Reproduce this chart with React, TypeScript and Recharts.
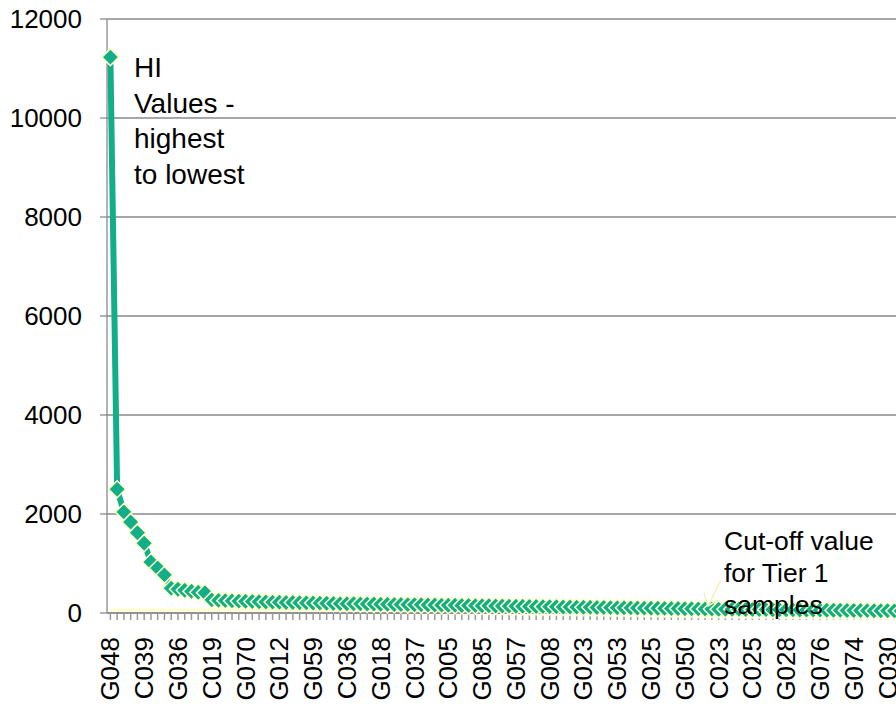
import React from "react";
import { LineChart, Line, XAxis, YAxis, CartesianGrid } from "recharts";

// HI values, sorted highest to lowest
const hiValues = [
  11230, 2500, 2040, 1840, 1620, 1410, 1030, 910, 770, 500,
  480, 460, 440, 420, 410, 265, 255, 250, 245, 240,
  236, 232, 228, 224, 220, 217, 214, 211, 208, 205,
  202, 199, 196, 193, 190, 188, 186, 184, 182, 180,
  177, 175, 173, 171, 169, 167, 165, 163, 161, 159,
  157, 155, 153, 151, 149, 147, 145, 143, 141, 139,
  137, 135, 133, 131, 129, 127, 125, 123, 121, 119,
  117, 115, 113, 111, 109, 107, 105, 103, 101, 99,
  97, 95, 93, 91, 89, 87, 85, 83, 81, 79,
  77, 76, 75, 74, 72, 71, 70, 68, 67, 66,
  64, 63, 62, 60, 59, 58, 56, 55, 54, 52,
  51, 50, 48, 47, 46, 44, 43, 42, 40, 39,
];

// every 5th sample gets a label on the axis
const tickLabels = [
  "G048", "C039", "G036", "C019", "G070", "G012", "G059", "C036",
  "G018", "C037", "C005", "G085", "G057", "G008", "G023", "G053",
  "G025", "G050", "C023", "C025", "G028", "G076", "G074", "C030",
];

const yTicks = [0, 2000, 4000, 6000, 8000, 10000, 12000];

const CUTOFF = 60;

const GREEN = "#12AE89";
const PALE = "#FFFFC8";
const FONT = "'Liberation Sans', Arial, sans-serif";

const data = hiValues.map((v, i) => ({ idx: i, hi: v, cutoff: CUTOFF }));

function SampleTick(props: any) {
  const { x, payload } = props;
  const i = payload.value as number;
  const label = i % 5 === 0 ? tickLabels[i / 5] : "";
  if (!label) return null;
  return (
    <g transform={`translate(${x + 9}, 637) rotate(-90)`}>
      <text x={0} y={0} textAnchor="end" fontSize={26} fontFamily={FONT} fill="#000">
        {label}
      </text>
    </g>
  );
}

function Diamond(props: any) {
  const { cx, cy } = props;
  if (cx == null || cy == null) return null;
  const r = 8.5;
  return (
    <polygon
      points={`${cx},${cy - r} ${cx + r},${cy} ${cx},${cy + r} ${cx - r},${cy}`}
      fill={GREEN}
      stroke={PALE}
      strokeWidth={1.5}
    />
  );
}

export default function App() {
  return (
    <div
      style={{
        position: "absolute",
        left: 0,
        top: 0,
        width: 896,
        height: 704,
        overflow: "hidden",
        background: "#fff",
        fontFamily: FONT,
      }}
    >
      <LineChart
        width={940}
        height={704}
        data={data}
        margin={{ top: 19, right: 22, bottom: 0, left: 0 }}
      >
        <CartesianGrid vertical={false} stroke="#8a8a8a" strokeWidth={1.3} />
        <XAxis
          dataKey="idx"
          type="category"
          scale="band"
          interval={0}
          height={91}
          tick={<SampleTick />}
          tickSize={7}
          tickLine={{ stroke: "#999", strokeWidth: 1.5 }}
          axisLine={{ stroke: "#8a8a8a", strokeWidth: 1.3 }}
        />
        <YAxis
          width={107}
          domain={[0, 12000]}
          ticks={yTicks}
          interval={0}
          tickSize={7}
          tickMargin={18}
          tickLine={{ stroke: "#8a8a8a", strokeWidth: 1.3 }}
          axisLine={{ stroke: "#8a8a8a", strokeWidth: 1.3 }}
          tick={{ fontSize: 26, fontFamily: FONT, fill: "#000" }}
        />
        <Line
          dataKey="hi"
          stroke={GREEN}
          strokeWidth={6}
          dot={<Diamond />}
          activeDot={false}
          isAnimationActive={false}
        />
        <Line
          dataKey="cutoff"
          stroke={PALE}
          strokeWidth={2.5}
          dot={false}
          activeDot={false}
          isAnimationActive={false}
        />
      </LineChart>

      <div
        style={{
          position: "absolute",
          left: 134,
          top: 50,
          fontSize: 28,
          lineHeight: "35.5px",
          color: "#000",
          whiteSpace: "nowrap",
        }}
      >
        HI
        <br />
        Values -
        <br />
        highest
        <br />
        to lowest
      </div>

      <div
        style={{
          position: "absolute",
          left: 724,
          top: 525,
          fontSize: 26.5,
          lineHeight: "32px",
          color: "#000",
          whiteSpace: "nowrap",
        }}
      >
        Cut-off value
        <br />
        for Tier 1
        <br />
        samples
      </div>

      <svg
        width={896}
        height={704}
        style={{ position: "absolute", left: 0, top: 0, pointerEvents: "none" }}
      >
        <line x1={721} y1={580} x2={708} y2={606} stroke="#F2F0B8" strokeWidth={1.5} />
        <polyline points="704,593 708,606 718,600" fill="none" stroke="#F2F0B8" strokeWidth={1.5} />
      </svg>
    </div>
  );
}
